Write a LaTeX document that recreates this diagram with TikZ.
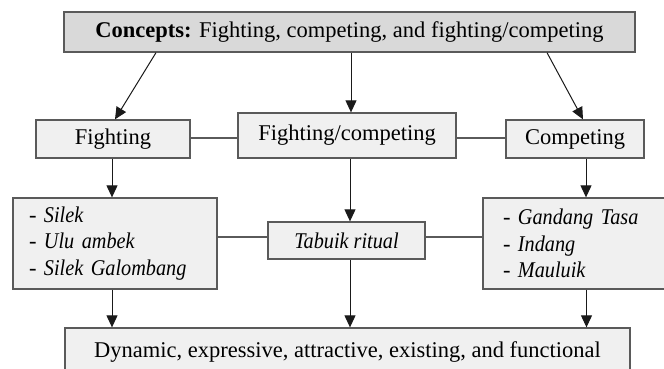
\documentclass[tikz,border=0pt]{standalone}
\usepackage{fontspec}
\setmainfont{Liberation Serif}[ItalicFont={Liberation Serif Italic}, BoldFont={Liberation Serif Bold}, ItalicFeatures={FakeStretch=0.9}]
\usetikzlibrary{arrows.meta}
\definecolor{topfill}{HTML}{D9D9D9}
\definecolor{boxfill}{HTML}{F0F0F0}
\definecolor{boxline}{HTML}{5A5A5A}
\definecolor{linkline}{HTML}{1A1A1A}
\tikzset{
  box/.style={draw=boxline, line width=1.3pt, fill=boxfill, rectangle, inner sep=0pt,
    font=\fontsize{22.5}{26.7}\selectfont},
  topbox/.style={box, fill=topfill},
  listbox/.style={box, align=left, inner xsep=16pt},
  arr/.style={draw=linkline, line width=1pt, -{Triangle[length=12pt,width=11pt]}},
  link/.style={draw=boxline, line width=1.2pt},
}
\begin{document}
\begin{tikzpicture}[x=1pt,y=-1pt]
\useasboundingbox (0,0) rectangle (664,369);
\clip (0,0) rectangle (664,369);
\fill[white] (0,0) rectangle (664,369);

\node[topbox, minimum width=571pt, minimum height=40pt] (top) at (349.5,32)
  {\textbf{Concepts:} Fighting, competing, and fighting/competing};

\node[box, minimum width=154pt, minimum height=38pt] (fight) at (113,139) {Fighting};
\node[box, minimum width=218pt, minimum height=45pt] (fc) at (347,135.5) {Fighting/competing};
\node[box, minimum width=138pt, minimum height=38pt] (comp) at (575,139) {Competing};

\node[listbox, text width=172pt, minimum height=91pt] (llist) at (115,243.5)
  {\mbox{- \textit{Silek}}\\\mbox{- \textit{Ulu ambek}}\\\mbox{- \textit{Silek Galombang}}};
\node[box, minimum width=157pt, minimum height=37pt] (tab) at (346.5,240.5) {\textit{Tabuik ritual}};
\node[listbox, inner xsep=20pt, text width=167pt, minimum height=91pt] (rlist) at (586.5,243.5)
  {\mbox{- \textit{Gandang Tasa}}\\\mbox{- \textit{Indang}}\\\mbox{- \textit{Mauluik}}};

\node[box, minimum width=565pt, minimum height=48pt] (bot) at (347.5,352)
  {Dynamic, expressive, attractive, existing, and functional};

% top arrows
\draw[arr] ([xshift=-193.5pt]top.south) -- ([xshift=2pt]fight.north);
\draw[arr] ([xshift=1.5pt]top.south) -- ([xshift=1.5pt]top.south |- fc.north);
\draw[arr] ([xshift=197.5pt]top.south) -- ([xshift=8pt]comp.north);

% horizontal links
\draw[link] ([yshift=1pt]fight.east) -- ([yshift=1pt]fight.east -| fc.west);
\draw[link] ([yshift=1pt]comp.west) -- ([yshift=1pt]comp.west -| fc.east);
\draw[link] ([yshift=3.5pt]tab.west) -- ([yshift=3.5pt]tab.west -| llist.east);
\draw[link] ([yshift=3.5pt]tab.east) -- ([yshift=3.5pt]tab.east -| rlist.west);

% second row arrows
\draw[arr] ([xshift=-1pt]fight.south) -- ([xshift=-1pt]fight.south |- llist.north);
\draw[arr] ([xshift=3pt]fc.south) -- ([xshift=3pt]fc.south |- tab.north);
\draw[arr] ([xshift=11pt]comp.south) -- ([xshift=11pt]comp.south |- rlist.north);

% third row arrows
\draw[arr] ([xshift=-3pt]llist.south) -- ([xshift=-3pt]llist.south |- bot.north);
\draw[arr] ([xshift=3.5pt]tab.south) -- ([xshift=3.5pt]tab.south |- bot.north);
\draw[arr] (rlist.south) -- (rlist.south |- bot.north);
\end{tikzpicture}
\end{document}
